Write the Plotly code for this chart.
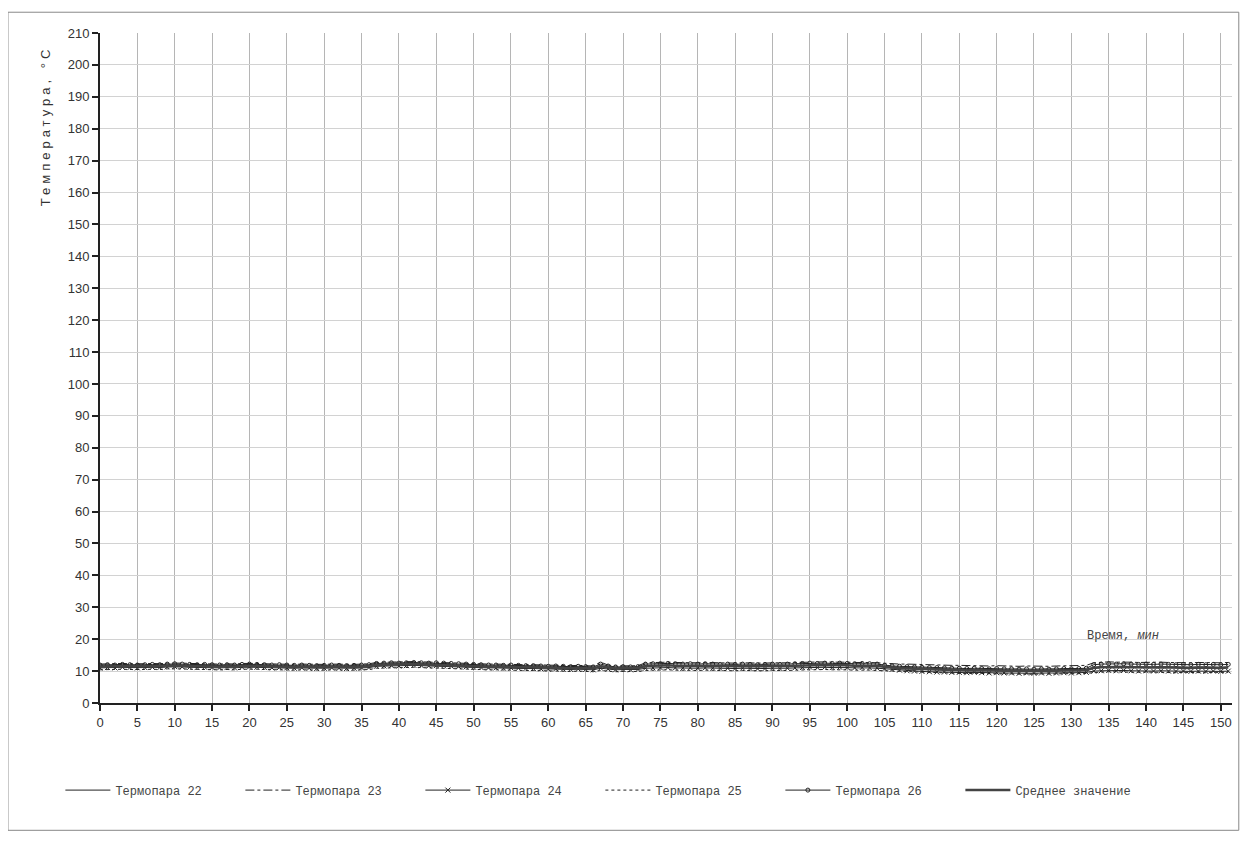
import plotly.graph_objects as go

minutes = list(range(0, 152))

t22 = [11.6, 11.7, 11.6, 11.8, 11.7, 11.6, 11.7, 11.8, 11.7, 11.9, 12.0, 11.9, 11.8, 11.8, 11.7, 11.8, 11.7, 11.6, 11.7, 11.8,
       11.9, 11.8, 11.7, 11.6, 11.7, 11.6, 11.5, 11.6, 11.5, 11.4, 11.5, 11.6, 11.5, 11.4, 11.5, 11.6, 11.7,
       12.1, 12.2, 12.3, 12.3, 12.2, 12.4, 12.3, 12.2, 12.3, 12.2, 12.1, 12.0, 11.9, 11.8,
       11.7, 11.6, 11.6, 11.5, 11.6, 11.5, 11.4, 11.4, 11.3, 11.2, 11.3, 11.2, 11.1, 11.2, 11.1, 11.0, 11.4, 11.2, 11.0, 11.1, 11.0, 11.1,
       11.6, 11.7, 11.7, 11.8, 11.7, 11.6, 11.7, 11.6, 11.7, 11.6, 11.5, 11.6, 11.5, 11.6, 11.5, 11.4, 11.5, 11.6, 11.5, 11.6,
       11.7, 11.8, 11.9, 11.8, 11.9, 11.8, 11.9, 11.8, 11.7, 11.8, 11.7, 11.6,
       11.4, 11.3, 11.2, 11.1, 11.0, 10.9, 10.8, 10.8, 10.7, 10.6, 10.6, 10.5, 10.6, 10.5, 10.4, 10.5, 10.4, 10.4, 10.3, 10.4,
       10.3, 10.4, 10.3, 10.4, 10.5, 10.4, 10.5, 10.6,
       11.2, 11.4, 11.5, 11.4, 11.5, 11.4, 11.3, 11.4, 11.3, 11.4, 11.3, 11.2, 11.3, 11.2, 11.3, 11.2, 11.3, 11.2, 11.3]

t23 = [12.2, 12.3, 12.2, 12.4, 12.3, 12.2, 12.3, 12.4, 12.3, 12.5, 12.6, 12.5, 12.4, 12.3, 12.4, 12.3, 12.2, 12.3, 12.2, 12.4,
       12.5, 12.4, 12.3, 12.2, 12.3, 12.2, 12.1, 12.2, 12.1, 12.0, 12.1, 12.2, 12.1, 12.0, 12.1, 12.2, 12.3,
       12.7, 12.8, 12.9, 12.8, 12.9, 13.0, 12.9, 12.8, 12.9, 12.8, 12.7, 12.6, 12.5, 12.4,
       12.3, 12.2, 12.2, 12.1, 12.2, 12.1, 12.0, 12.0, 11.9, 11.8, 11.9, 11.8, 11.7, 11.8, 11.7, 11.6, 12.8, 11.9, 11.6, 11.7, 11.6, 11.7,
       12.6, 12.7, 12.7, 12.8, 12.7, 12.6, 12.7, 12.6, 12.7, 12.6, 12.5, 12.6, 12.5, 12.6, 12.5, 12.4, 12.5, 12.6, 12.5, 12.6,
       12.7, 12.8, 12.9, 12.8, 12.9, 12.8, 12.9, 12.8, 12.7, 12.8, 12.7, 12.6,
       12.4, 12.3, 12.2, 12.2, 12.1, 12.0, 12.0, 11.9, 11.9, 11.8, 11.8, 11.7, 11.8, 11.7, 11.6, 11.7, 11.6, 11.6, 11.5, 11.6,
       11.5, 11.6, 11.5, 11.6, 11.7, 11.6, 11.7, 11.8,
       12.6, 12.8, 12.9, 12.8, 12.9, 12.8, 12.7, 12.8, 12.7, 12.8, 12.7, 12.6, 12.7, 12.6, 12.7, 12.6, 12.7, 12.6, 12.7]

t24 = [11.0, 11.1, 11.0, 11.2, 11.1, 11.0, 11.1, 11.2, 11.1, 11.3, 11.4, 11.3, 11.2, 11.1, 11.2, 11.1, 11.0, 11.1, 11.0, 11.2,
       11.3, 11.2, 11.1, 11.0, 11.1, 11.0, 10.9, 11.0, 10.9, 10.8, 10.9, 11.0, 10.9, 10.8, 10.9, 11.0, 11.1,
       11.5, 11.6, 11.7, 11.6, 11.7, 11.8, 11.7, 11.6, 11.7, 11.6, 11.5, 11.4, 11.3, 11.2,
       11.1, 11.0, 11.0, 10.9, 11.0, 10.9, 10.8, 10.8, 10.7, 10.6, 10.7, 10.6, 10.5, 10.6, 10.5, 10.4, 10.9, 10.6, 10.4, 10.5, 10.4, 10.5,
       10.9, 11.0, 11.0, 11.1, 11.0, 10.9, 11.0, 10.9, 11.0, 10.9, 10.8, 10.9, 10.8, 10.9, 10.8, 10.7, 10.8, 10.9, 10.8, 10.9,
       11.0, 11.1, 11.2, 11.1, 11.2, 11.1, 11.2, 11.1, 11.0, 11.1, 11.0, 10.9,
       10.7, 10.5, 10.3, 10.1, 10.0, 9.9, 9.8, 9.7, 9.7, 9.6, 9.6, 9.5, 9.6, 9.5, 9.4, 9.5, 9.4, 9.4, 9.3, 9.4,
       9.3, 9.4, 9.3, 9.4, 9.5, 9.4, 9.5, 9.6,
       10.0, 10.1, 10.2, 10.1, 10.2, 10.1, 10.0, 10.1, 10.0, 10.1, 10.0, 9.9, 10.0, 9.9, 10.0, 9.9, 10.0, 9.9, 10.0]

t25 = [10.4, 10.5, 10.4, 10.6, 10.5, 10.4, 10.5, 10.6, 10.5, 10.7, 10.8, 10.7, 10.6, 10.5, 10.6, 10.5, 10.4, 10.5, 10.4, 10.6,
       10.7, 10.6, 10.5, 10.4, 10.5, 10.4, 10.3, 10.4, 10.3, 10.2, 10.3, 10.4, 10.3, 10.2, 10.3, 10.4, 10.5,
       10.9, 11.0, 11.1, 11.0, 11.1, 11.2, 11.1, 11.0, 11.1, 11.0, 10.9, 10.8, 10.7, 10.6,
       10.5, 10.4, 10.4, 10.3, 10.4, 10.3, 10.2, 10.2, 10.1, 10.0, 10.1, 10.0, 9.9, 10.0, 9.9, 9.8, 10.2, 10.0, 9.8, 9.9, 9.8, 9.9,
       10.2, 10.3, 10.3, 10.4, 10.3, 10.2, 10.3, 10.2, 10.3, 10.2, 10.1, 10.2, 10.1, 10.2, 10.1, 10.0, 10.1, 10.2, 10.1, 10.2,
       10.3, 10.4, 10.5, 10.4, 10.5, 10.4, 10.5, 10.4, 10.3, 10.4, 10.3, 10.2,
       10.1, 10.0, 9.9, 9.8, 9.7, 9.6, 9.5, 9.5, 9.4, 9.3, 9.3, 9.2, 9.3, 9.2, 9.1, 9.2, 9.1, 9.1, 9.0, 9.1,
       9.0, 9.1, 9.0, 9.1, 9.2, 9.1, 9.2, 9.3,
       9.6, 9.7, 9.8, 9.7, 9.8, 9.7, 9.6, 9.7, 9.6, 9.7, 9.6, 9.5, 9.6, 9.5, 9.6, 9.5, 9.6, 9.5, 9.6]

t26 = [11.9, 12.0, 11.9, 12.1, 12.0, 11.9, 12.0, 12.1, 12.0, 12.2, 12.3, 12.2, 12.1, 12.0, 12.1, 12.0, 11.9, 12.0, 11.9, 12.1,
       12.2, 12.1, 12.0, 11.9, 12.0, 11.9, 11.8, 11.9, 11.8, 11.7, 11.8, 11.9, 11.8, 11.7, 11.8, 11.9, 12.0,
       12.4, 12.5, 12.6, 12.5, 12.6, 12.7, 12.6, 12.5, 12.6, 12.5, 12.4, 12.3, 12.2, 12.1,
       12.0, 11.9, 11.9, 11.8, 11.9, 11.8, 11.7, 11.7, 11.6, 11.5, 11.6, 11.5, 11.4, 11.5, 11.4, 11.3, 12.2, 11.6, 11.3, 11.4, 11.3, 11.4,
       12.2, 12.3, 12.3, 12.4, 12.3, 12.2, 12.3, 12.2, 12.3, 12.2, 12.1, 12.2, 12.1, 12.2, 12.1, 12.0, 12.1, 12.2, 12.1, 12.2,
       12.3, 12.4, 12.5, 12.4, 12.5, 12.4, 12.5, 12.4, 12.3, 12.4, 12.3, 12.2,
       11.8, 11.6, 11.5, 11.4, 11.3, 11.2, 11.1, 11.1, 11.0, 10.9, 10.9, 10.8, 10.9, 10.8, 10.7, 10.8, 10.7, 10.7, 10.6, 10.7,
       10.6, 10.7, 10.6, 10.7, 10.8, 10.7, 10.8, 10.9,
       12.0, 12.2, 12.3, 12.2, 12.3, 12.2, 12.1, 12.2, 12.1, 12.2, 12.1, 12.0, 12.1, 12.0, 12.1, 12.0, 12.1, 12.0, 12.1]

mean_val = [11.4, 11.5, 11.4, 11.6, 11.5, 11.4, 11.5, 11.6, 11.5, 11.7, 11.8, 11.7, 11.6, 11.5, 11.6, 11.5, 11.4, 11.5, 11.4, 11.6,
            11.7, 11.6, 11.5, 11.4, 11.5, 11.4, 11.3, 11.4, 11.3, 11.2, 11.3, 11.4, 11.3, 11.2, 11.3, 11.4, 11.5,
            11.9, 12.0, 12.1, 12.0, 12.1, 12.2, 12.1, 12.0, 12.1, 12.0, 11.9, 11.8, 11.7, 11.6,
            11.5, 11.4, 11.4, 11.3, 11.4, 11.3, 11.2, 11.2, 11.1, 11.0, 11.1, 11.0, 10.9, 11.0, 10.9, 10.8, 11.5, 11.1, 10.8, 10.9, 10.8, 10.9,
            11.6, 11.7, 11.7, 11.8, 11.7, 11.6, 11.7, 11.6, 11.7, 11.6, 11.5, 11.6, 11.5, 11.6, 11.5, 11.4, 11.5, 11.6, 11.5, 11.6,
            11.7, 11.8, 11.9, 11.8, 11.9, 11.8, 11.9, 11.8, 11.7, 11.8, 11.7, 11.6,
            11.3, 11.1, 10.9, 10.8, 10.7, 10.6, 10.5, 10.5, 10.4, 10.3, 10.3, 10.2, 10.3, 10.2, 10.1, 10.2, 10.1, 10.1, 10.0, 10.1,
            10.0, 10.1, 10.0, 10.1, 10.2, 10.1, 10.2, 10.3,
            11.0, 11.2, 11.3, 11.2, 11.3, 11.2, 11.1, 11.2, 11.1, 11.2, 11.1, 11.0, 11.1, 11.0, 11.1, 11.0, 11.1, 11.0, 11.1]

series_names = ["Термопара 22", "Термопара 23", "Термопара 24", "Термопара 25", "Термопара 26", "Среднее значение"]
x_ticks = list(range(0, 155, 5))
y_ticks = list(range(0, 215, 10))

ink = "#222222"
fig = go.Figure()
fig.add_trace(go.Scatter(x=minutes, y=t22, name=series_names[0], mode="lines",
                         line=dict(color=ink, width=1)))
fig.add_trace(go.Scatter(x=minutes, y=t23, name=series_names[1], mode="lines",
                         line=dict(color=ink, width=1, dash="dashdot")))
fig.add_trace(go.Scatter(x=minutes, y=t24, name=series_names[2], mode="lines+markers",
                         line=dict(color=ink, width=1),
                         marker=dict(symbol="x-thin-open", size=5, color=ink, line=dict(width=1, color=ink))))
fig.add_trace(go.Scatter(x=minutes, y=t25, name=series_names[3], mode="lines",
                         line=dict(color=ink, width=1, dash="dot")))
fig.add_trace(go.Scatter(x=minutes, y=t26, name=series_names[4], mode="lines+markers",
                         line=dict(color=ink, width=1),
                         marker=dict(symbol="circle-open", size=4, color=ink, line=dict(width=1, color=ink))))
fig.add_trace(go.Scatter(x=minutes, y=mean_val, name=series_names[5], mode="lines",
                         line=dict(color="#444444", width=2.5)))

fig.update_layout(
    width=1232, height=832,
    paper_bgcolor="white", plot_bgcolor="white",
    margin=dict(l=92, r=8, t=25, b=137),
    font=dict(family="Liberation Sans, Arial, sans-serif", size=13, color="#333333"),
    legend=dict(orientation="h", x=-0.035, xanchor="left", y=-0.13, yanchor="middle",
                font=dict(family="Liberation Mono, DejaVu Sans Mono, monospace", size=12, color="#444444"),
                bgcolor="rgba(0,0,0,0)", itemwidth=45, entrywidth=120, entrywidthmode="pixels",
                tracegroupgap=0),
    showlegend=True,
)
fig.update_xaxes(range=[0, 151.5], tickvals=x_ticks, ticks="outside", ticklen=6, tickwidth=2, tickcolor="#222222",
                 showline=True, linecolor="#222222", linewidth=2, showgrid=True, gridcolor="#b5b5b5", gridwidth=1,
                 zeroline=False, tickfont=dict(size=13, color="#333333"))
fig.update_yaxes(range=[0, 210], tickvals=y_ticks, ticks="outside", ticklen=6, tickwidth=2, tickcolor="#222222",
                 showline=True, linecolor="#222222", linewidth=2, showgrid=True, gridcolor="#d2d2d2", gridwidth=1,
                 zeroline=False, tickfont=dict(size=13, color="#333333"))

fig.add_annotation(xref="paper", yref="paper", x=-0.048, y=0.985, xanchor="center", yanchor="top",
                   text='<span style="letter-spacing:4px">Температура, °C</span>', textangle=-90, showarrow=False,
                   font=dict(family="Liberation Sans, Arial, sans-serif", size=13, color="#333333"))

fig.add_annotation(x=142, y=21, xref="x", yref="y", xanchor="right", yanchor="middle",
                   text="Время, <i>мин</i>", showarrow=False,
                   font=dict(family="Liberation Mono, DejaVu Sans Mono, monospace", size=12, color="#444444"))

fig.add_shape(type="rect", xref="paper", yref="paper", x0=-0.0813, x1=1.006, y0=-0.19, y1=1.031,
              line=dict(color="#888888", width=1))

fig.write_html("out.html")
